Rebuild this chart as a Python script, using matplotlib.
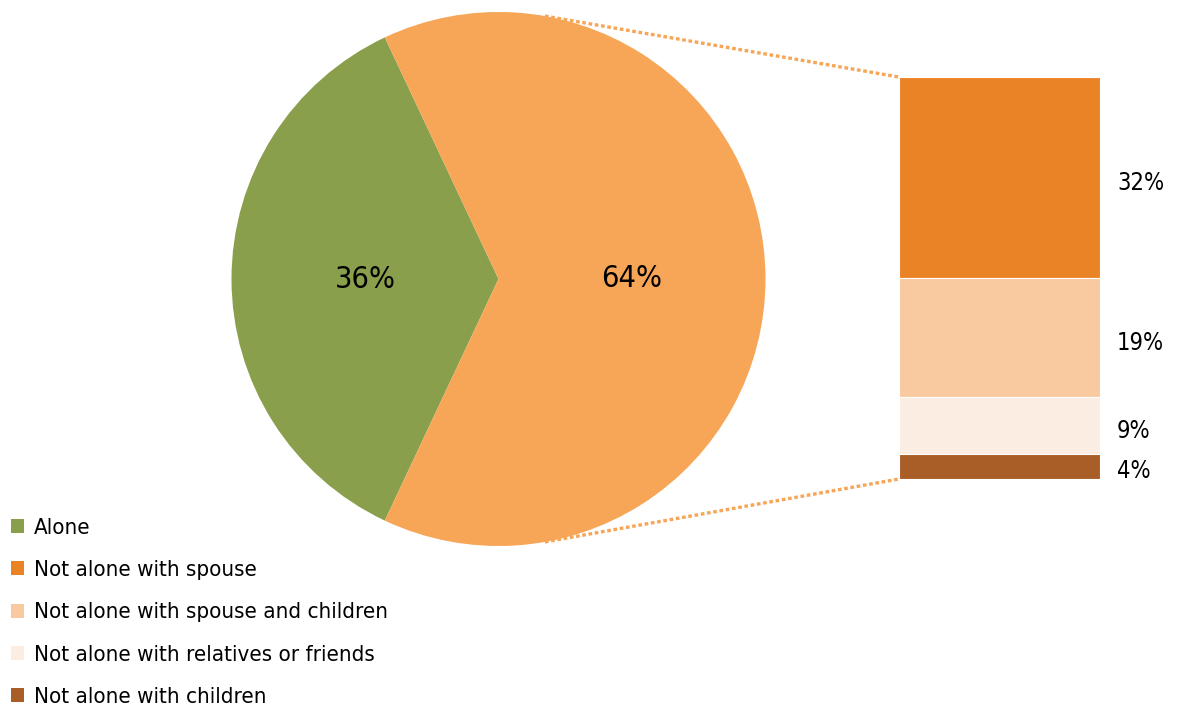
import matplotlib
matplotlib.use('Agg')
import matplotlib.pyplot as plt
from matplotlib.patches import Patch
from matplotlib.lines import Line2D
import numpy as np

plt.rcParams['font.family'] = ['DejaVu Sans']
plt.rcParams['font.stretch'] = 'condensed'

# main split
pie_labels = ['Alone', 'Not alone']
pie_values = [36, 64]
pie_colors = ['#8A9F4C', '#F7A658']

# breakdown of "not alone", top to bottom
bar_labels = ['Not alone with spouse', 'Not alone with spouse and children',
              'Not alone with relatives or friends', 'Not alone with children']
bar_values = [32, 19, 9, 4]
bar_colors = ['#EA8226', '#F9CAA0', '#FBEDE2', '#A95E27']

fig = plt.figure(figsize=(11.78, 7.10), dpi=100)

# pie
ax_pie = fig.add_axes([231 / 1178, 1 - 546 / 710, 535 / 1178, 534 / 710])
start = 180 - pie_values[0] / 100 * 360 / 2
wedges, _, autotexts = ax_pie.pie(pie_values, colors=pie_colors, startangle=start,
                                  autopct='%1.0f%%', pctdistance=0.5, radius=1,
                                  textprops={'fontsize': 22, 'color': 'black'})
ax_pie.set_xlim(-1, 1)
ax_pie.set_ylim(-1, 1)
ax_pie.set_aspect('equal')
ax_pie.axis('off')

# stacked bar
ax_bar = fig.add_axes([899 / 1178, 1 - 479 / 710, 201 / 1178, 402 / 710])
bottom = sum(bar_values)
for val, col in zip(bar_values, bar_colors):
    bottom -= val
    ax_bar.bar(0.5, val, width=1, bottom=bottom, color=col, edgecolor='white', linewidth=0.8)
    ax_bar.text(1.085, bottom + val / 2 - 0.8, f'{val}%', ha='left', va='center', fontsize=17)
ax_bar.set_xlim(0, 1)
ax_bar.set_ylim(0, sum(bar_values))
ax_bar.axis('off')

# dotted connectors from the pie edge to the bar corners
fig.canvas.draw()
to_fig = fig.transFigure.inverted()
theta = np.deg2rad(80)
for sign, yb in [(1, sum(bar_values)), (-1, 0)]:
    p0 = to_fig.transform(ax_pie.transData.transform((np.cos(theta), sign * np.sin(theta))))
    p1 = to_fig.transform(ax_bar.transData.transform((0, yb)))
    fig.add_artist(Line2D([p0[0], p1[0]], [p0[1], p1[1]], transform=fig.transFigure,
                          color='#F7A658', linewidth=2.4, linestyle=(0, (1.1, 0.8)),
                          solid_capstyle='butt', dash_capstyle='butt'))

handles = [Patch(facecolor=pie_colors[0], label=pie_labels[0])]
handles += [Patch(facecolor=c, label=l) for c, l in zip(bar_colors, bar_labels)]
fig.legend(handles=handles, loc='upper left', bbox_to_anchor=(11 / 1178, 1 - 518 / 710),
           frameon=False, fontsize=16, handlelength=0.6, handleheight=0.6,
           handletextpad=0.45, labelspacing=1.0, borderpad=0, borderaxespad=0)

fig.savefig('out.png', dpi=100)
